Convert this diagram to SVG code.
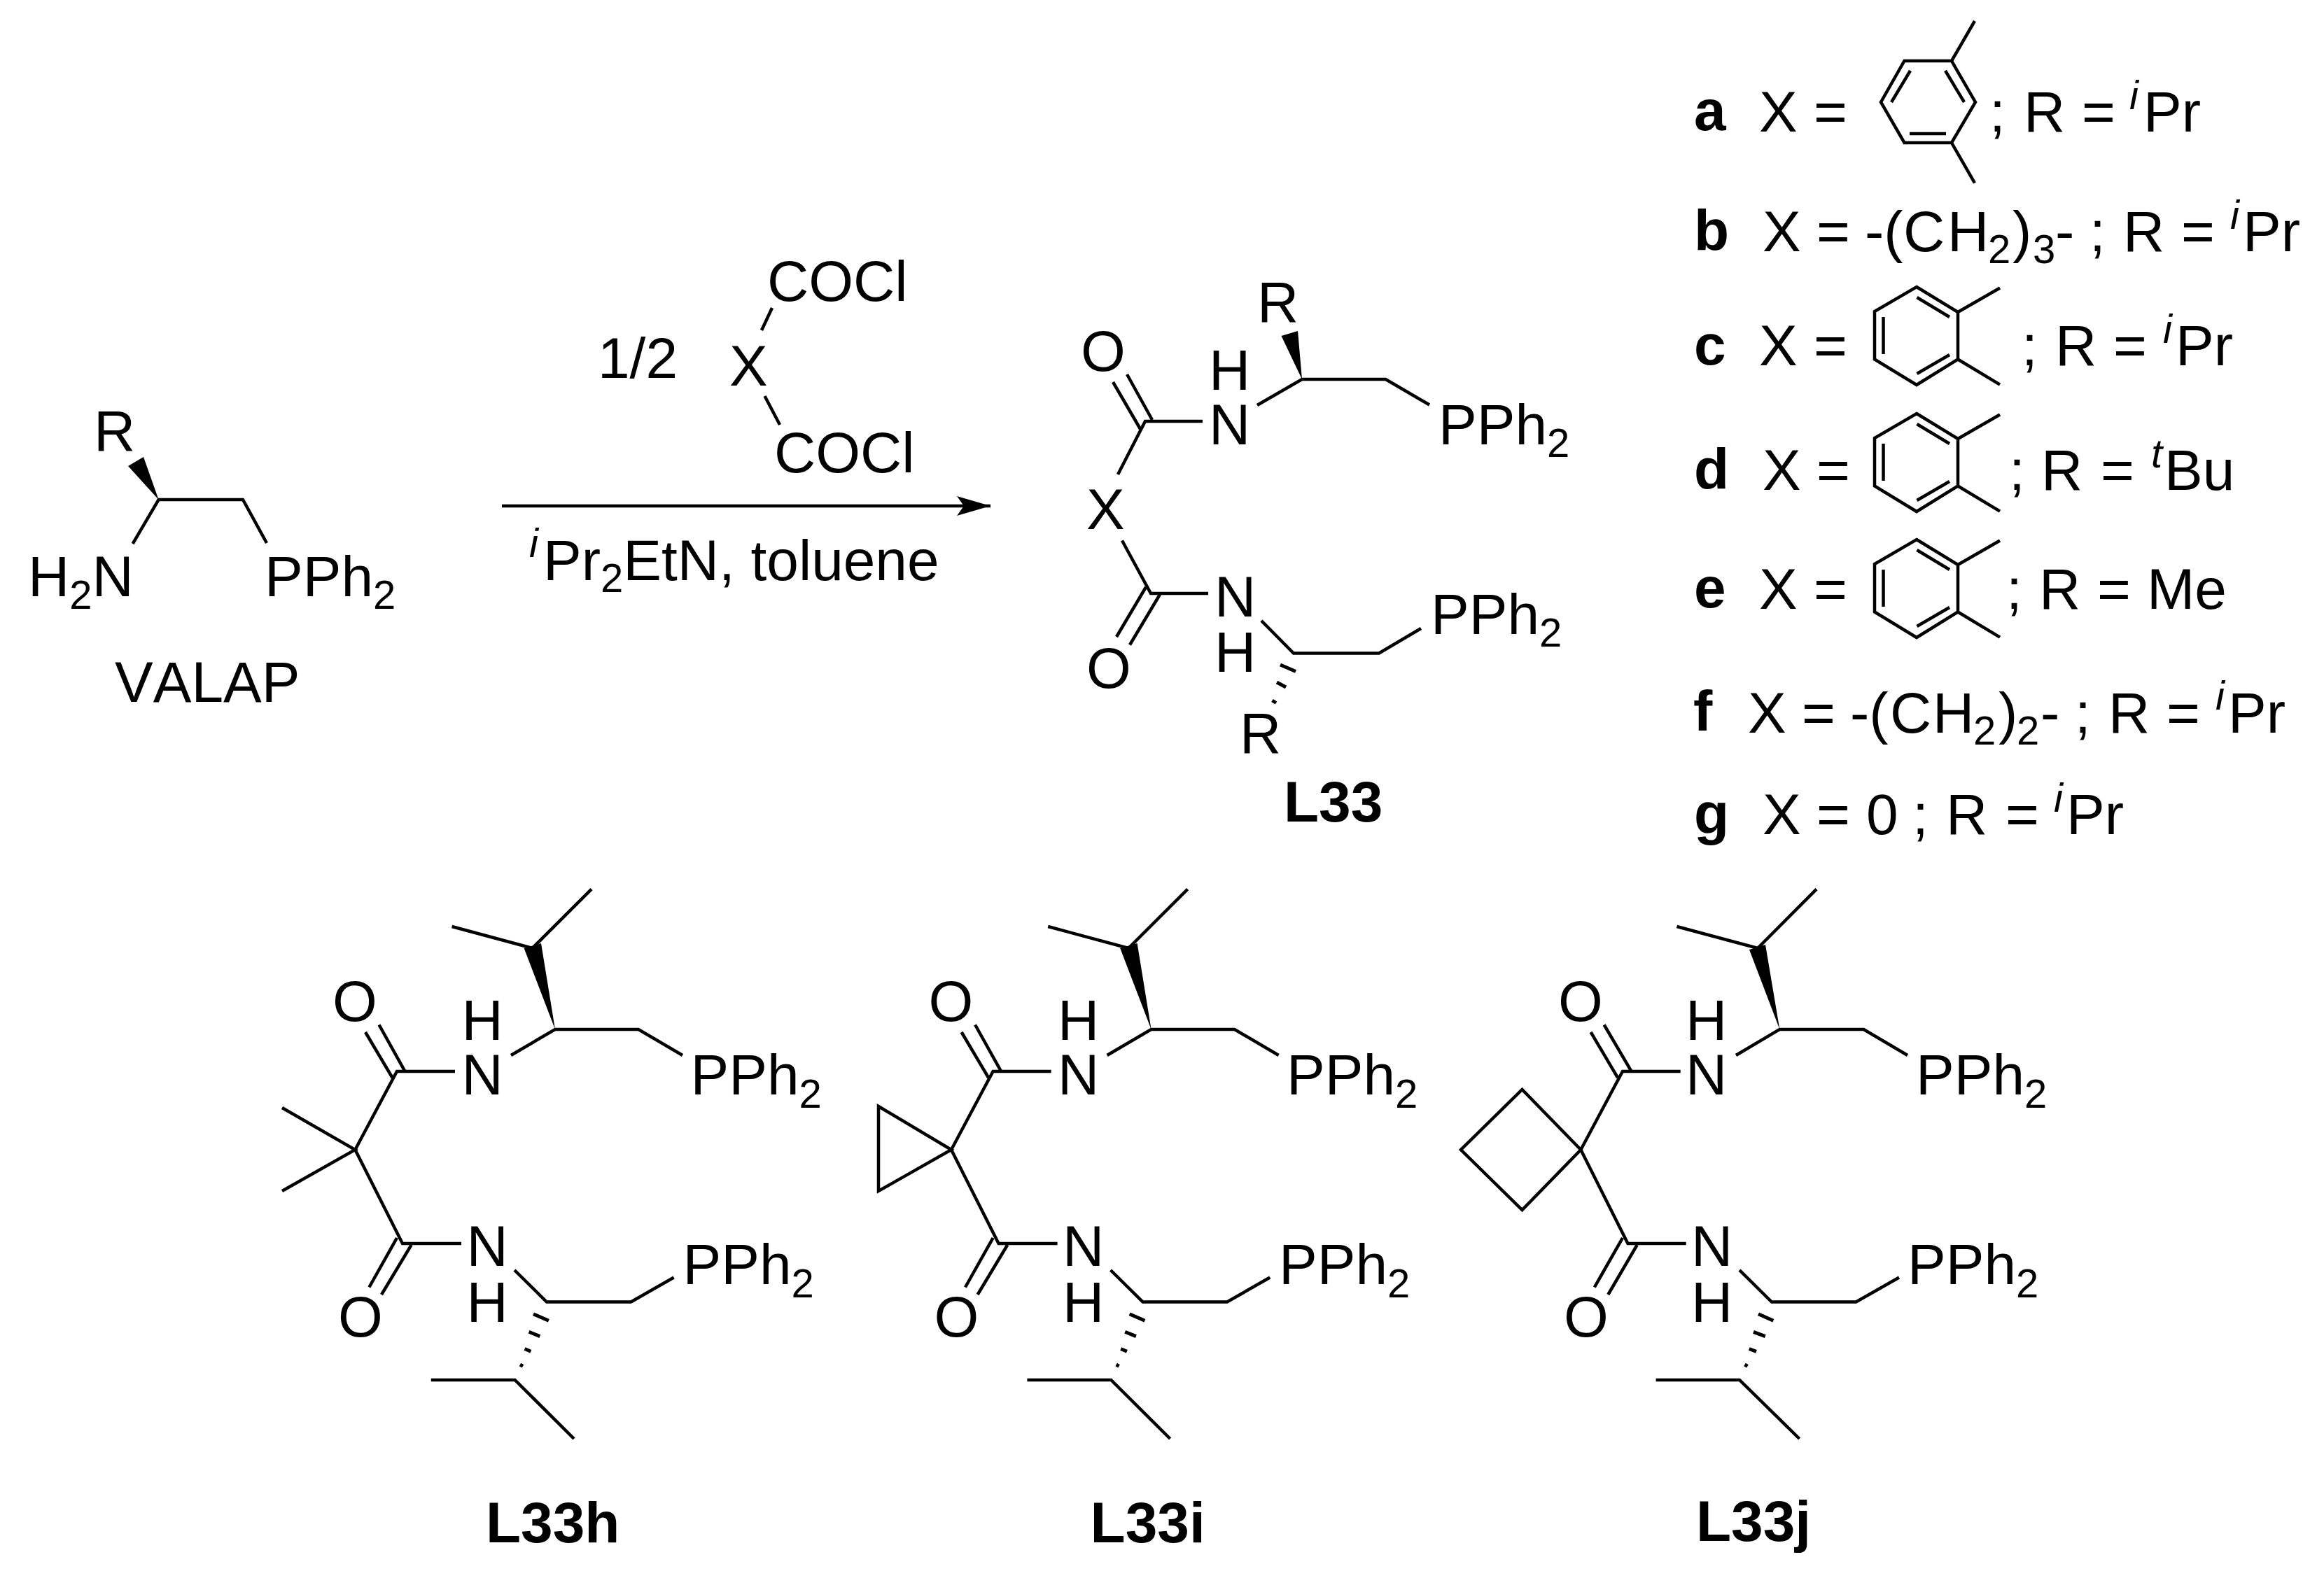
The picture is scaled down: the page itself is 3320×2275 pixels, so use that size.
<svg xmlns="http://www.w3.org/2000/svg" width="3320" height="2275" viewBox="0 0 3320 2275">
<style>
text{font-family:"Liberation Sans",Arial,sans-serif;font-size:82px;fill:#000;font-kerning:none}
.s{font-size:58px}
.sup{font-size:58px;font-style:italic}
.bd{font-weight:bold}
.b{fill:none;stroke:#000;stroke-width:4.5;stroke-linejoin:miter;stroke-linecap:butt}
.w{fill:#000;stroke:none}
.h{fill:none;stroke:#000;stroke-width:5}
</style>
<defs>
<marker id="head" markerUnits="userSpaceOnUse" markerWidth="50" markerHeight="30" refX="48" refY="14" orient="auto">
<path d="M0 0L48 14L0 28L10 14Z" fill="#000"/>
</marker>
</defs>
<rect width="3320" height="2275" fill="#fff"/>

<g id="connectors">
<path class="b" d="M717 723H1415" marker-end="url(#head)"/>
</g>

<g id="valap">
<path class="w" d="M226.600 714L183 666L205 653Z"/>
<path class="b" d="M189.600 777L226.600 714L347 714L381 776" stroke-width="5"/>
<text x="134" y="644">R</text>
<text x="40" y="852">H<tspan class="s" y="870">2</tspan><tspan y="852">N</tspan></text>
<text x="378" y="852">PPh<tspan class="s" y="870">2</tspan></text>
<text x="164" y="1003">VALAP</text>
</g>

<g id="reagent">
<text x="854" y="540">1/2</text>
<text x="1042" y="551">X</text>
<path class="b" d="M1103 440L1088 472M1092.500 566L1114 607"/>
<text x="1096" y="430">COCl</text>
<text x="1106" y="675">COCl</text>
</g>

<g id="conditions">
<text class="sup" x="756" y="796">i</text>
<text x="776" y="829">Pr<tspan class="s" y="846">2</tspan><tspan y="829">EtN, toluene</tspan></text>
</g>

<g id="L33">
<path class="w" d="M1860 542L1830.500 480L1854 473Z"/>
<path class="b" d="M1796 579L1860 542L1979.500 542L2042 578.500"/>
<path class="b" d="M1610 535L1646 600M1590 546L1629 613"/>
<path class="b" d="M1597 678L1636 602H1718"/>
<path class="b" d="M1603 772.500L1644 848H1726"/>
<path class="b" d="M1637 839L1595 910M1657 849.500L1614 921.500"/>
<path class="b" d="M1802 887L1848 933.500H1970L2030 898"/>
<path class="h" d="M1829 950L1851 959.500M1824 975L1837 982M1817.500 1001L1823 1004.500"/>
<text x="1796" y="460">R</text>
<text x="1727" y="557">H</text>
<text x="1727" y="635">N</text>
<text x="2055" y="635">PPh<tspan class="s" y="653">2</tspan></text>
<text x="1544" y="530">O</text>
<text x="1552" y="756">X</text>
<text x="1735" y="881">N</text>
<text x="1735" y="959.500">H</text>
<text x="1552" y="983">O</text>
<text x="2044" y="906">PPh<tspan class="s" y="924">2</tspan></text>
<text x="1771" y="1076">R</text>
<text class="bd" x="1834" y="1173.500">L33</text>
</g>

<g id="legend-a">
<text class="bd" x="2420" y="186">a</text>
<text x="2513" y="188">X</text><text x="2591" y="188">=</text>
<path class="b" d="M2720.500 87H2788L2822 146L2788 204H2720.500L2687 146ZM2729 101L2702 146M2779 101L2806 146M2728 191H2780M2788 87L2821 30M2788 204L2821 261.500"/>
<text x="2842" y="188">;</text><text x="2891" y="188">R</text><text x="2974" y="188">=</text>
<text class="sup" x="3042" y="156">i</text><text x="3062" y="188">Pr</text>
</g>

<g id="legend-b">
<text class="bd" x="2420" y="357">b</text>
<text x="2518" y="359">X</text><text x="2595" y="359">=</text>
<text x="2664" y="359">-(<tspan x="2719">C</tspan><tspan x="2782">H</tspan><tspan class="s" x="2840" y="376">2</tspan><tspan x="2875" y="359">)</tspan><tspan class="s" x="2904" y="376">3</tspan><tspan x="2936" y="359">-</tspan></text>
<text x="2985" y="359">;</text><text x="3033" y="359">R</text><text x="3116" y="359">=</text>
<text class="sup" x="3186" y="327">i</text><text x="3204" y="359">Pr</text>
</g>

<g id="legend-c">
<text class="bd" x="2420" y="520.500">c</text>
<text x="2513" y="522">X</text><text x="2591" y="522">=</text>
<path class="b" d="M2738 410L2797 446V513.500L2738 550L2678 513.500V445ZM2738.500 425L2785 453M2690.500 453V506M2738.500 534L2785 507M2797 446L2857 411.500M2797 513.500L2857 549.600"/>
<text x="2888" y="522">;</text><text x="2936" y="522">R</text><text x="3019" y="522">=</text>
<text class="sup" x="3090" y="490">i</text><text x="3108" y="522">Pr</text>
</g>

<g id="legend-d">
<text class="bd" x="2420" y="697.500">d</text>
<text x="2518" y="699.500">X</text><text x="2595" y="699.500">=</text>
<path class="b" d="M2738 591L2797 627V694.500L2738 731L2678 694.500V626ZM2738.500 606L2785 634M2690.500 634V687M2738.500 715L2785 688M2797 627L2857 592.500M2797 694.500L2857 730.600"/>
<text x="2870" y="699.500">;</text><text x="2916" y="699.500">R</text><text x="3001" y="699.500">=</text>
<text class="sup" x="3073" y="667.500">t</text><text x="3092" y="699.500">Bu</text>
</g>

<g id="legend-e">
<text class="bd" x="2420" y="868">e</text>
<text x="2513" y="869.500">X</text><text x="2591" y="869.500">=</text>
<path class="b" d="M2738 771L2797 807V874.500L2738 911L2678 874.500V806ZM2738.500 786L2785 814M2690.500 814V867M2738.500 895L2785 868M2797 807L2857 772.500M2797 874.500L2857 910.600"/>
<text x="2866" y="869.500">;</text><text x="2913" y="869.500">R</text><text x="2996" y="869.500">=</text>
<text x="3067" y="869.500">Me</text>
</g>

<g id="legend-f">
<text class="bd" x="2419" y="1043.500">f</text>
<text x="2497" y="1046.500">X</text><text x="2574" y="1046.500">=</text>
<text x="2643" y="1046.500">-(<tspan x="2700">C</tspan><tspan x="2761">H</tspan><tspan class="s" x="2819" y="1064">2</tspan><tspan x="2855" y="1046.500">)</tspan><tspan class="s" x="2881" y="1064">2</tspan><tspan x="2915" y="1046.500">-</tspan></text>
<text x="2964" y="1046.500">;</text><text x="3012" y="1046.500">R</text><text x="3095" y="1046.500">=</text>
<text class="sup" x="3165" y="1014">i</text><text x="3183" y="1046.500">Pr</text>
</g>

<g id="legend-g">
<text class="bd" x="2420" y="1191">g</text>
<text x="2518" y="1192">X</text><text x="2595" y="1192">=</text>
<text x="2666" y="1192">0</text>
<text x="2732" y="1192">;</text><text x="2780" y="1192">R</text><text x="2865" y="1192">=</text>
<text class="sup" x="2934" y="1160">i</text><text x="2952" y="1192">Pr</text>
</g>

<g id="L33h">
<path class="b" d="M645.600 1324L760.500 1355L845 1270.600"/>
<path class="w" d="M793 1471L748.600 1355L773 1348Z"/>
<path class="b" d="M730 1508L793 1471H912L975 1508"/>
<path class="b" d="M541.500 1464.500L578 1530M522 1475L560.500 1540"/>
<path class="b" d="M650 1531H567L507.400 1643L575 1777H659"/>
<path class="b" d="M403 1583L507.400 1643L403 1702"/>
<path class="b" d="M567 1769L527.400 1839.500M587.600 1779L545 1850"/>
<path class="b" d="M735 1815L781 1860.500H901.400L962.600 1825.500"/>
<path class="h" d="M762 1877.800L783.800 1887.300M755.600 1903.300L771.300 1909.600M749.600 1927.500L758.300 1931.300M743 1950L747 1952.400"/>
<path class="b" d="M615.800 1972H735.600L820 2056"/>
<text x="659.500" y="1485.500">H</text>
<text x="659.500" y="1564">N</text>
<text x="986.500" y="1564">PPh<tspan class="s" y="1582.500">2</tspan></text>
<text x="475" y="1459">O</text>
<text x="666.500" y="1809">N</text>
<text x="666.500" y="1888.500">H</text>
<text x="483" y="1910">O</text>
<text x="975.500" y="1835">PPh<tspan class="s" y="1853.500">2</tspan></text>
<text class="bd" x="694" y="2204">L33h</text>
</g>

<g id="L33i" transform="translate(851.600 0)">
<path class="b" d="M645.600 1324L760.500 1355L845 1270.600"/>
<path class="w" d="M793 1471L748.600 1355L773 1348Z"/>
<path class="b" d="M730 1508L793 1471H912L975 1508"/>
<path class="b" d="M541.500 1464.500L578 1530M522 1475L560.500 1540"/>
<path class="b" d="M650 1531H567L507.400 1643L575 1777H659"/>
<path class="b" d="M403.400 1581L507.400 1643L403.400 1702Z"/>
<path class="b" d="M567 1769L527.400 1839.500M587.600 1779L545 1850"/>
<path class="b" d="M735 1815L781 1860.500H901.400L962.600 1825.500"/>
<path class="h" d="M762 1877.800L783.800 1887.300M755.600 1903.300L771.300 1909.600M749.600 1927.500L758.300 1931.300M743 1950L747 1952.400"/>
<path class="b" d="M615.800 1972H735.600L820 2056"/>
<text x="659.500" y="1485.500">H</text>
<text x="659.500" y="1564">N</text>
<text x="986.500" y="1564">PPh<tspan class="s" y="1582.500">2</tspan></text>
<text x="475" y="1459">O</text>
<text x="666.500" y="1809">N</text>
<text x="666.500" y="1888.500">H</text>
<text x="483" y="1910">O</text>
<text x="975.500" y="1835">PPh<tspan class="s" y="1853.500">2</tspan></text>
<text class="bd" x="706" y="2204">L33i</text>
</g>

<g id="L33j">
<path class="b" d="M2395.500 1324L2511 1355L2595 1270.600"/>
<path class="w" d="M2542.400 1471L2499 1357L2522 1350Z"/>
<path class="b" d="M2480 1508L2542.400 1471H2662.400L2725 1508"/>
<path class="b" d="M2291.600 1464.500L2330 1530M2272.600 1475L2311 1540"/>
<path class="b" d="M2400.700 1531H2318L2258.300 1643L2325.500 1777H2408.700"/>
<path class="b" d="M2258.300 1643L2174.500 1557L2087 1643L2174.500 1729Z"/>
<path class="b" d="M2318 1769L2277.800 1839.500M2338.700 1779L2297.300 1850"/>
<path class="b" d="M2485 1815L2531 1860.500H2651.500L2713 1825.500"/>
<path class="h" d="M2512 1877.800L2533.300 1887.300M2505 1903.300L2521.800 1909.600M2498.800 1927.500L2509 1931.300M2492.500 1950L2496.500 1952.400"/>
<path class="b" d="M2365.600 1972H2485L2570.600 2056"/>
<text x="2408" y="1485.500">H</text>
<text x="2408" y="1564">N</text>
<text x="2737" y="1564">PPh<tspan class="s" y="1582.500">2</tspan></text>
<text x="2226" y="1459">O</text>
<text x="2416" y="1809">N</text>
<text x="2416" y="1888.500">H</text>
<text x="2234" y="1910">O</text>
<text x="2725" y="1835">PPh<tspan class="s" y="1853.500">2</tspan></text>
<text class="bd" x="2423" y="2201.500">L33j</text>
</g>
</svg>
